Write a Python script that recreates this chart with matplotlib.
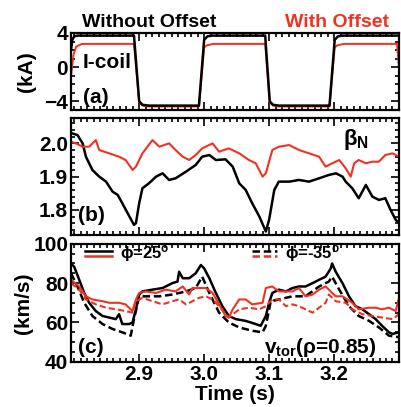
import numpy as np
import matplotlib
matplotlib.use("Agg")
import matplotlib.pyplot as plt
from matplotlib.ticker import MultipleLocator

plt.rcParams['font.family'] = ['Liberation Sans', 'DejaVu Sans']
plt.rcParams['font.weight'] = 'bold'
plt.rcParams['mathtext.fontset'] = 'custom'
plt.rcParams['mathtext.rm'] = 'Liberation Sans:bold'
plt.rcParams['mathtext.it'] = 'Liberation Sans:bold'
plt.rcParams['mathtext.bf'] = 'Liberation Sans:bold'

# (a) I-coil current, kA
coil_t_black = [2.795, 2.797, 2.800, 2.805, 2.892, 2.900, 2.905, 2.915, 2.992, 3.000, 3.005, 3.012,
                3.094, 3.101, 3.106, 3.115, 3.193, 3.201, 3.206, 3.213, 3.300]
coil_black = [2.0, 3.2, 3.6, 3.69, 3.69, -4.0, -4.4, -4.5, -4.5, 3.2, 3.6, 3.69,
              3.69, -4.0, -4.4, -4.5, -4.5, 3.2, 3.6, 3.69, 3.69]
coil_t_red = [2.795, 2.799, 2.803, 2.812, 2.892, 2.900, 2.905, 2.915, 2.992, 3.000, 3.004, 3.014,
              3.094, 3.101, 3.106, 3.115, 3.193, 3.201, 3.205, 3.215, 3.297, 3.300]
coil_red = [-1.1, 1.5, 2.4, 2.72, 2.72, -4.1, -4.5, -4.6, -4.6, 2.3, 2.55, 2.72,
            2.72, -4.1, -4.5, -4.6, -4.6, 2.3, 2.55, 2.72, 2.72, 0.0]

# (b) beta_N
beta_t_black = [2.797, 2.805, 2.813, 2.818, 2.828, 2.8385, 2.849, 2.859, 2.867, 2.874, 2.885, 2.892,
                2.895, 2.900, 2.905, 2.915, 2.926, 2.936, 2.946, 2.956, 2.972, 2.987, 2.997, 3.008,
                3.018, 3.033, 3.044, 3.054, 3.064, 3.074, 3.085, 3.095, 3.100, 3.108, 3.115, 3.131,
                3.146, 3.1615, 3.177, 3.192, 3.203, 3.213, 3.218, 3.228, 3.238, 3.249, 3.259, 3.269,
                3.279, 3.287, 3.295, 3.300]
beta_black = [2.03, 2.025, 2.00, 1.96, 1.92, 1.90, 1.885, 1.855, 1.845, 1.82, 1.78, 1.755,
              1.76, 1.82, 1.865, 1.88, 1.90, 1.91, 1.89, 1.895, 1.915, 1.935, 1.96, 1.965,
              1.95, 1.952, 1.93, 1.88, 1.86, 1.82, 1.78, 1.735, 1.77, 1.86, 1.885, 1.885,
              1.89, 1.885, 1.895, 1.905, 1.91, 1.90, 1.885, 1.865, 1.835, 1.875, 1.84, 1.83,
              1.835, 1.80, 1.77, 1.76]
beta_t_red = [2.795, 2.8026, 2.813, 2.823, 2.8333, 2.8385, 2.854, 2.869, 2.879, 2.890, 2.895, 2.905,
              2.9205, 2.931, 2.946, 2.956, 2.967, 2.977, 2.987, 2.997, 3.013, 3.023, 3.038, 3.054,
              3.069, 3.0795, 3.090, 3.095, 3.105, 3.115, 3.131, 3.146, 3.1615, 3.177, 3.187, 3.197,
              3.208, 3.218, 3.2256, 3.231, 3.238, 3.249, 3.259, 3.269, 3.279, 3.290, 3.300]
beta_red = [2.005, 2.00, 1.99, 1.99, 2.01, 1.98, 1.97, 1.96, 1.95, 1.92, 1.93, 1.97,
            2.01, 1.99, 2.00, 1.98, 1.96, 1.95, 1.965, 1.985, 2.00, 1.975, 1.985, 1.97,
            1.95, 1.94, 1.90, 1.91, 1.98, 1.99, 1.995, 1.98, 1.97, 1.96, 1.93, 1.94,
            1.95, 1.925, 1.90, 1.94, 1.95, 1.94, 1.945, 1.945, 1.965, 1.97, 1.96]

# (c) v_tor at rho=0.85, km/s
v_t_bs = [2.795, 2.800, 2.8077, 2.8154, 2.823, 2.8333, 2.8436, 2.854, 2.864, 2.869, 2.874, 2.8846,
          2.8897, 2.895, 2.900, 2.905, 2.9205, 2.936, 2.951, 2.959, 2.9615, 2.967, 2.977, 2.987,
          2.995, 3.000, 3.008, 3.018, 3.028, 3.038, 3.049, 3.064, 3.0795, 3.087, 3.095, 3.100,
          3.105, 3.115, 3.126, 3.136, 3.146, 3.156, 3.167, 3.177, 3.187, 3.195, 3.197, 3.2026,
          3.213, 3.223, 3.233, 3.2436, 3.254, 3.264, 3.274, 3.2846, 3.290, 3.300]
v_black_solid = [90, 88.3, 81.7, 75, 70, 65.8, 63.3, 62.5, 61.7, 64.2, 59.2, 59.2,
                 60, 66.7, 74.2, 75.8, 76.7, 77.5, 80, 80.8, 85.8, 82.5, 82.5, 85,
                 89.2, 87.5, 82.5, 75, 68.3, 63.3, 61.7, 60.8, 59.2, 58.3, 63.3, 70,
                 75, 76.7, 75.8, 77.5, 78.3, 78.3, 80, 81.7, 83.3, 87.5, 90, 85.8,
                 80, 73.3, 68.3, 66.7, 64.2, 61.7, 58.3, 55, 54.2, 55]
v_t_bd = [2.795, 2.805, 2.8154, 2.828, 2.8436, 2.859, 2.874, 2.887, 2.892, 2.900, 2.910, 2.931,
          2.951, 2.972, 2.987, 2.997, 3.008, 3.023, 3.038, 3.054, 3.074, 3.090, 3.095, 3.1026,
          3.115, 3.136, 3.156, 3.177, 3.192, 3.197, 3.208, 3.223, 3.238, 3.254, 3.269, 3.2846,
          3.300]
v_black_dash = [85, 78.3, 70, 63.3, 59.2, 56.7, 55, 53.3, 61.7, 73.3, 73.3, 73.3,
                74.2, 75.8, 77.5, 83.3, 75, 65, 60, 57.5, 55.8, 55, 58.3, 70.8,
                71.7, 73.3, 73.3, 78.3, 80.8, 83.3, 76.7, 68.3, 63.3, 60.8, 57.5, 53.3,
                52.5]
v_t_rs = [2.795, 2.8077, 2.818, 2.828, 2.8436, 2.854, 2.869, 2.879, 2.8897, 2.895, 2.900, 2.910,
          2.926, 2.941, 2.956, 2.967, 2.977, 2.982, 2.992, 3.0026, 3.013, 3.023, 3.033, 3.038,
          3.044, 3.054, 3.064, 3.074, 3.090, 3.095, 3.105, 3.115, 3.126, 3.136, 3.146, 3.156,
          3.167, 3.177, 3.187, 3.192, 3.2026, 3.213, 3.228, 3.238, 3.254, 3.264, 3.274, 3.2846,
          3.295, 3.300]
v_red_solid = [81.7, 78.3, 73.3, 71.7, 70.8, 70, 70, 69.2, 65.8, 71.7, 75, 75.8,
               75, 76.7, 75.8, 78.3, 74.2, 77.5, 77.5, 77.5, 75, 69.2, 63.3, 62.5,
               66.7, 71.7, 71.7, 69.2, 70, 77.5, 78.3, 75.8, 75.8, 75.8, 77.5, 73.3,
               74.2, 76.7, 78.3, 76.7, 73.3, 73.3, 70, 66.7, 67.5, 67.5, 66.7, 67.5,
               65.8, 72.5]
v_t_rd = [2.795, 2.8077, 2.818, 2.8333, 2.849, 2.864, 2.879, 2.8897, 2.895, 2.905, 2.9205, 2.936,
          2.951, 2.9615, 2.972, 2.982, 2.992, 3.0026, 3.013, 3.023, 3.038, 3.054, 3.069, 3.085,
          3.095, 3.105, 3.115, 3.126, 3.136, 3.146, 3.156, 3.167, 3.177, 3.187, 3.192, 3.2026,
          3.218, 3.228, 3.2436, 3.259, 3.274, 3.29, 3.300]
v_red_dash = [80, 76.7, 71.7, 69.2, 67.5, 66.7, 65.8, 65, 70.8, 72.5, 70.8, 69.2,
              70.8, 71.7, 69.2, 70.8, 72.5, 73.3, 71.7, 68.3, 62.5, 66.7, 67.5, 66.7,
              68.3, 71.7, 71.7, 68.3, 69.2, 68.3, 66.7, 65, 67.5, 70, 74.2, 70.8,
              70, 66.7, 64.2, 63.3, 62.5, 61.7, 64.2]

RED = '#ee3322'
xlim = (2.795, 3.300)
FS = 15

fig = plt.figure(figsize=(4.01, 4.07), dpi=100)
ax1 = fig.add_axes([0.177, 0.730, 0.818, 0.189])
ax2 = fig.add_axes([0.177, 0.423, 0.818, 0.286])
ax3 = fig.add_axes([0.177, 0.111, 0.818, 0.290])

for ax in (ax1, ax2, ax3):
    ax.set_xlim(*xlim)
    ax.set_xticks([2.9, 3.0, 3.1, 3.2])
    ax.xaxis.set_minor_locator(MultipleLocator(0.01))
    ax.tick_params(which='both', direction='in', top=True, right=True, labelsize=FS, width=1.2, pad=2)
    ax.tick_params(which='major', length=6)
    ax.tick_params(which='minor', length=3)
    for s in ax.spines.values():
        s.set_linewidth(1.6)

# panel (a)
ax1.plot(coil_t_red, coil_red, color=RED, lw=1.4)
ax1.plot(coil_t_black, coil_black, color='black', lw=1.8)
ax1.set_ylim(-5, 4)
ax1.set_yticks([-4, 0, 4])
ax1.set_yticklabels(['\u22124', '0', '4'], fontweight='bold')
ax1.yaxis.set_minor_locator(MultipleLocator(1))
ax1.set_xticklabels([])
ax1.set_ylabel('(kA)', fontsize=FS, fontweight='bold', labelpad=6)
ax1.text(0.037, 0.61, 'I-coil', transform=ax1.transAxes, fontsize=FS, fontweight='bold', va='center')
ax1.text(0.037, 0.16, '(a)', transform=ax1.transAxes, fontsize=FS, fontweight='bold', va='center')
ax1.text(0.035, 1.03, 'Without Offset', transform=ax1.transAxes, fontsize=14, fontweight='bold',
         va='bottom', ha='left')
ax1.text(0.97, 1.03, 'With Offset', transform=ax1.transAxes, fontsize=14, fontweight='bold',
         va='bottom', ha='right', color=RED)

# panel (b)
ax2.plot(beta_t_black, beta_black, color='black', lw=1.8)
ax2.plot(beta_t_red, beta_red, color=RED, lw=1.5)
ax2.set_ylim(1.725, 2.075)
ax2.set_yticks([1.8, 1.9, 2.0])
ax2.set_yticklabels(['1.8', '1.9', '2.0'], fontweight='bold')
ax2.yaxis.set_minor_locator(MultipleLocator(0.02))
ax2.set_xticklabels([])
ax2.text(0.83, 0.82, r'$\beta_\mathrm{N}$', transform=ax2.transAxes, fontsize=16, va='center')
ax2.text(0.02, 0.17, '(b)', transform=ax2.transAxes, fontsize=FS, fontweight='bold', va='center')

# panel (c)
ax3.plot(v_t_bs, v_black_solid, color='black', lw=1.8)
ax3.plot(v_t_bd, v_black_dash, color='black', lw=1.8, ls=(0, (3, 1.5)))
ax3.plot(v_t_rs, v_red_solid, color=RED, lw=1.5)
ax3.plot(v_t_rd, v_red_dash, color=RED, lw=1.5, ls=(0, (3, 1.5)))
ax3.set_ylim(40, 100)
ax3.set_yticks([40, 60, 80, 100])
ax3.set_yticklabels(['40', '60', '80', '100'], fontweight='bold')
ax3.yaxis.set_minor_locator(MultipleLocator(5))
ax3.set_xticklabels(['2.9', '3.0', '3.1', '3.2'], fontweight='bold')
ax3.set_ylabel('(km/s)', fontsize=FS, fontweight='bold', labelpad=0)
ax3.set_xlabel('Time (s)', fontsize=FS, fontweight='bold', labelpad=1)

# legend keys
tr = ax3.transAxes
ax3.plot([0.043, 0.125], [0.94, 0.94], color='black', lw=1.8, transform=tr)
ax3.plot([0.043, 0.125], [0.90, 0.90], color=RED, lw=1.8, transform=tr)
ax3.plot([0.552, 0.628], [0.94, 0.94], color='black', lw=1.8, ls=(0, (3, 1.5)), transform=tr)
ax3.plot([0.552, 0.628], [0.90, 0.90], color=RED, lw=1.8, ls=(0, (3, 1.5)), transform=tr)
ax3.text(0.15, 0.92, '\u03d5=25$^\\mathrm{o}$', transform=tr, fontsize=12, fontweight='bold', va='center')
ax3.text(0.652, 0.92, '\u03d5=-35$^\\mathrm{o}$', transform=tr, fontsize=12, fontweight='bold', va='center')
ax3.text(0.02, 0.12, '(c)', transform=tr, fontsize=FS, fontweight='bold', va='center')
ax3.text(0.93, 0.12, r'v$_\mathrm{tor}$($\rho$=0.85)', transform=tr, fontsize=FS, va='center', ha='right')

fig.savefig('out.png', dpi=100)
